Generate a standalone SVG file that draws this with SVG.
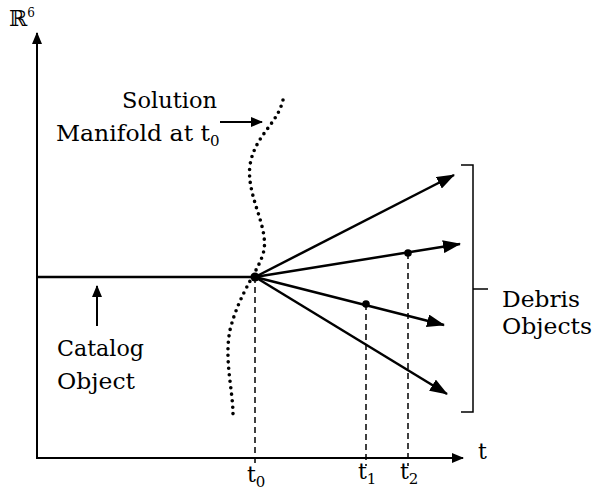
<svg xmlns="http://www.w3.org/2000/svg" width="595" height="494" viewBox="0 0 595 494">
<style>
text{font-family:"DejaVu Serif","Liberation Serif",serif;font-size:22px;fill:#000}
.ln{stroke:#000;stroke-width:2.5;fill:none}
.ax{stroke:#000;stroke-width:2;fill:none}
.dash{stroke:#000;stroke-width:1.5;stroke-dasharray:6 4;fill:none}
.dot{stroke:#000;stroke-width:3.6;stroke-dasharray:0 6.5;stroke-linecap:round;fill:none}
.sub{font-size:15px}
</style>
<defs>
<marker id="ah" viewBox="0 0 18 13" refX="17" refY="6.5" markerWidth="18" markerHeight="13" markerUnits="userSpaceOnUse" orient="auto">
<path d="M0,0 L18,6.5 L0,13 Z" fill="#000"/>
</marker>
<marker id="ahs" viewBox="0 0 12 10" refX="11" refY="5" markerWidth="12" markerHeight="10" markerUnits="userSpaceOnUse" orient="auto">
<path d="M0,0 L12,5 L0,10 Z" fill="#000"/>
</marker>
</defs>
<g id="axes">
<line class="ax" x1="37" y1="458" x2="37" y2="33" marker-end="url(#ahs)"/>
<line class="ax" x1="36" y1="458" x2="463" y2="458" marker-end="url(#ahs)"/>
<text x="9" y="26" font-size="18">ℝ<tspan font-size="12" dy="-9">6</tspan></text>
<text x="478" y="459">t</text>
</g>
<g id="manifold">
<path class="dot" d="M283,100 C277,125 255,135 250,165 C246,195 268,225 264,250 C260,270 240,290 230,330 C224,360 233,390 233,415"/>
<text x="122" y="108" textLength="95" lengthAdjust="spacingAndGlyphs">Solution</text>
<text x="56" y="141" textLength="154" lengthAdjust="spacingAndGlyphs">Manifold at t</text>
<text class="sub" x="210" y="146">0</text>
</g>
<g id="catalog">
<line class="ln" x1="37" y1="277" x2="255" y2="277"/>
<text x="57" y="356" textLength="87" lengthAdjust="spacingAndGlyphs">Catalog</text>
<text x="57" y="389" textLength="78" lengthAdjust="spacingAndGlyphs">Object</text>
</g>
<g id="debris">
<text x="502" y="307" textLength="78" lengthAdjust="spacingAndGlyphs">Debris</text>
<text x="502" y="334" textLength="90" lengthAdjust="spacingAndGlyphs">Objects</text>
<path stroke="#000" stroke-width="1.5" fill="none" d="M461,165 L473,165 L473,412 L461,412 M473,289 L488,289"/>
</g>
<g id="connectors">
<line class="ln" x1="255" y1="277" x2="454" y2="175" marker-end="url(#ah)"/>
<line class="ln" x1="255" y1="277" x2="460" y2="244" marker-end="url(#ah)"/>
<line class="ln" x1="255" y1="277" x2="444" y2="325" marker-end="url(#ah)"/>
<line class="ln" x1="255" y1="277" x2="447" y2="394" marker-end="url(#ah)"/>
<line class="ax" x1="97" y1="326" x2="97" y2="286" marker-end="url(#ahs)"/>
<line class="ax" x1="220" y1="122" x2="262" y2="122" marker-end="url(#ahs)"/>
<line class="dash" x1="255" y1="277" x2="255" y2="466"/>
<line class="dash" x1="366" y1="304" x2="366" y2="466"/>
<line class="dash" x1="408" y1="253" x2="408" y2="466"/>
<circle cx="255" cy="277" r="4.5"/>
<circle cx="366" cy="304" r="3.8"/>
<circle cx="408" cy="253" r="3.8"/>
</g>
<g id="ticks">
<text x="247" y="482">t<tspan class="sub" dy="5">0</tspan></text>
<text x="358" y="479">t<tspan class="sub" dy="5">1</tspan></text>
<text x="400" y="479">t<tspan class="sub" dy="5">2</tspan></text>
</g>
</svg>
